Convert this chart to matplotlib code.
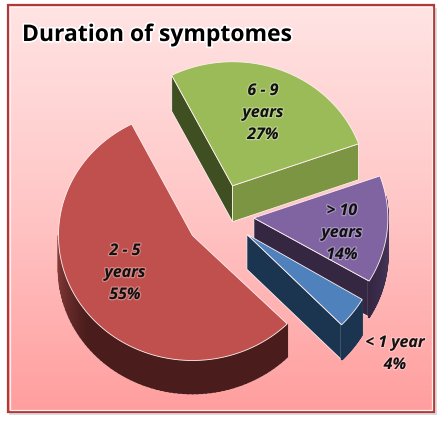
import numpy as np
import matplotlib
matplotlib.use("Agg")
import matplotlib.pyplot as plt
import matplotlib.patheffects as pe
from matplotlib.colors import LinearSegmentedColormap, to_rgb
from matplotlib.patches import Rectangle

title = "Duration of symptomes"
categories = ["6 - 9\nyears", "> 10\nyears", "< 1 year", "2 - 5\nyears"]
values = [27, 14, 4, 55]

top_colors = ["#9BBB59", "#8064A2", "#4F81BD", "#C0504D"]
cut_colors = ["#404F22", "#352742", "#1B344F", "#4A1C1B"]
front_colors = ["#7B9543", "#352742", "#1B344F", "#4A1C1B"]
wall_light = ["#7B9543", "#4A3860", "#1B344F", "#8E3F3C"]
wall_dark = ["#7B9543", "#352742", "#1B344F", "#4A1C1B"]
label_xy = [(263, 113), (342, 233), (395, 354), (125, 273)]
radius_y = [124, 124, 128, 125]
shift_y = [0, 0, 0, 2]
depth_px = [36, 36, 35, 33]
rim_span = [None, (-31, 10), (-45, -31), (-180, -45)]

W, H = 440, 425
fig = plt.figure(figsize=(W / 100, H / 100), dpi=100, facecolor="white")
ax = fig.add_axes([0, 0, 1, 1])

# shadow, frame and gradient background
ax.add_patch(Rectangle((9, 8), 428, 407, fc="#dcdcdc", ec="none", zorder=0))
bg = LinearSegmentedColormap.from_list("bg", ["#FFE4E4", "#FFC6C6", "#FF9E9E"])
grad = np.linspace(0, 1, 256).reshape(-1, 1)
ax.imshow(grad, cmap=bg, extent=(7, 434, 412, 4), aspect="auto", zorder=1)
ax.set_xlim(0, W)
ax.set_ylim(H, 0)
ax.axis("off")
ax.add_patch(Rectangle((7.5, 4.5), 426, 407, fc="none", ec="#B03A3A", lw=1.6, zorder=2))
ax.add_patch(Rectangle((9.5, 6.5), 422, 403, fc="none", ec="#FFF0F0", lw=0.9, zorder=2))

# pie geometry
cx, cy = 220, 215
a = 134
explode = 34
start = 117.0


def pt(ox, oy, b, deg):
    t = np.radians(deg)
    return ox + a * np.cos(t), oy - b * np.sin(t)


def mix(c1, c2, f):
    c1, c2 = np.array(to_rgb(c1)), np.array(to_rgb(c2))
    return tuple(c1 + (c2 - c1) * f)


edge = dict(ec="#FFF0F0", lw=0.6)
spans = np.array(values) / sum(values) * 360
ang = start
slices = []
for i, f in enumerate(spans):
    a0, a1 = ang, ang - f
    mid = np.radians((a0 + a1) / 2)
    ox = cx + explode * np.cos(mid)
    oy = cy - explode * np.sin(mid) * 124 / a + shift_y[i]
    slices.append((i, a0, a1, ox, oy))
    ang = a1

z = 5
for idx in [0, 1, 3, 2]:
    i, a0, a1, ox, oy = slices[idx]
    b = radius_y[i]
    depth = depth_px[i]
    p0 = pt(ox, oy, b, a0)
    p1 = pt(ox, oy, b, a1)
    if i == 0:
        ax.fill([ox, p0[0], p0[0], ox], [oy, p0[1], p0[1] + depth, oy + depth],
                fc=cut_colors[i], zorder=z, **edge)
    if i != 3:
        ax.fill([ox, p1[0], p1[0], ox], [oy, p1[1], p1[1] + depth, oy + depth],
                fc=front_colors[i], zorder=z, **edge)
    z += 1
    if rim_span[i] is not None:
        seg = np.linspace(rim_span[i][0], rim_span[i][1], 70)
        xs, ys = pt(ox, oy, b, seg)
        ax.fill(np.r_[xs, xs[::-1]], np.r_[ys, ys[::-1] + depth], fc="none",
                ec="#FFF0F0", lw=1.2, zorder=z)
        z += 1
        for k in range(len(seg) - 1):
            f = min(1, (seg[k] + 180) / 38) if i == 3 else (seg[k] - seg[0]) / 40
            c = mix(wall_dark[i], wall_light[i], f) if i != 3 else mix(wall_light[i], wall_dark[i], f)
            ax.fill([xs[k], xs[k + 1], xs[k + 1], xs[k]],
                    [ys[k], ys[k + 1], ys[k + 1] + depth, ys[k] + depth],
                    fc=c, ec=c, lw=1.2, zorder=z)
        z += 1
    th = np.linspace(a0, a1, 160)
    xs, ys = pt(ox, oy, b, th)
    ax.fill(np.r_[ox, xs], np.r_[oy, ys], fc=top_colors[i], ec="#FFF0F0", lw=0.6, zorder=z)
    z += 1

# text
halo = [pe.withStroke(linewidth=1.8, foreground="#FFFFFF", alpha=0.3)]
for lab, v, (x, y) in zip(categories, values, label_xy):
    ax.text(x, y, f"{lab}\n{v}%", ha="center", va="center", fontsize=11.5,
            family="Open Sans", style="italic", weight="bold", color="#111111",
            linespacing=1.5, zorder=50, path_effects=halo)

ax.text(22, 35, title, ha="left", va="center", fontsize=16.5, family="Open Sans",
        weight="bold", color="#000000", zorder=50,
        path_effects=[pe.withStroke(linewidth=2.5, foreground="white")])

fig.savefig("out.png", dpi=100, facecolor="white")
